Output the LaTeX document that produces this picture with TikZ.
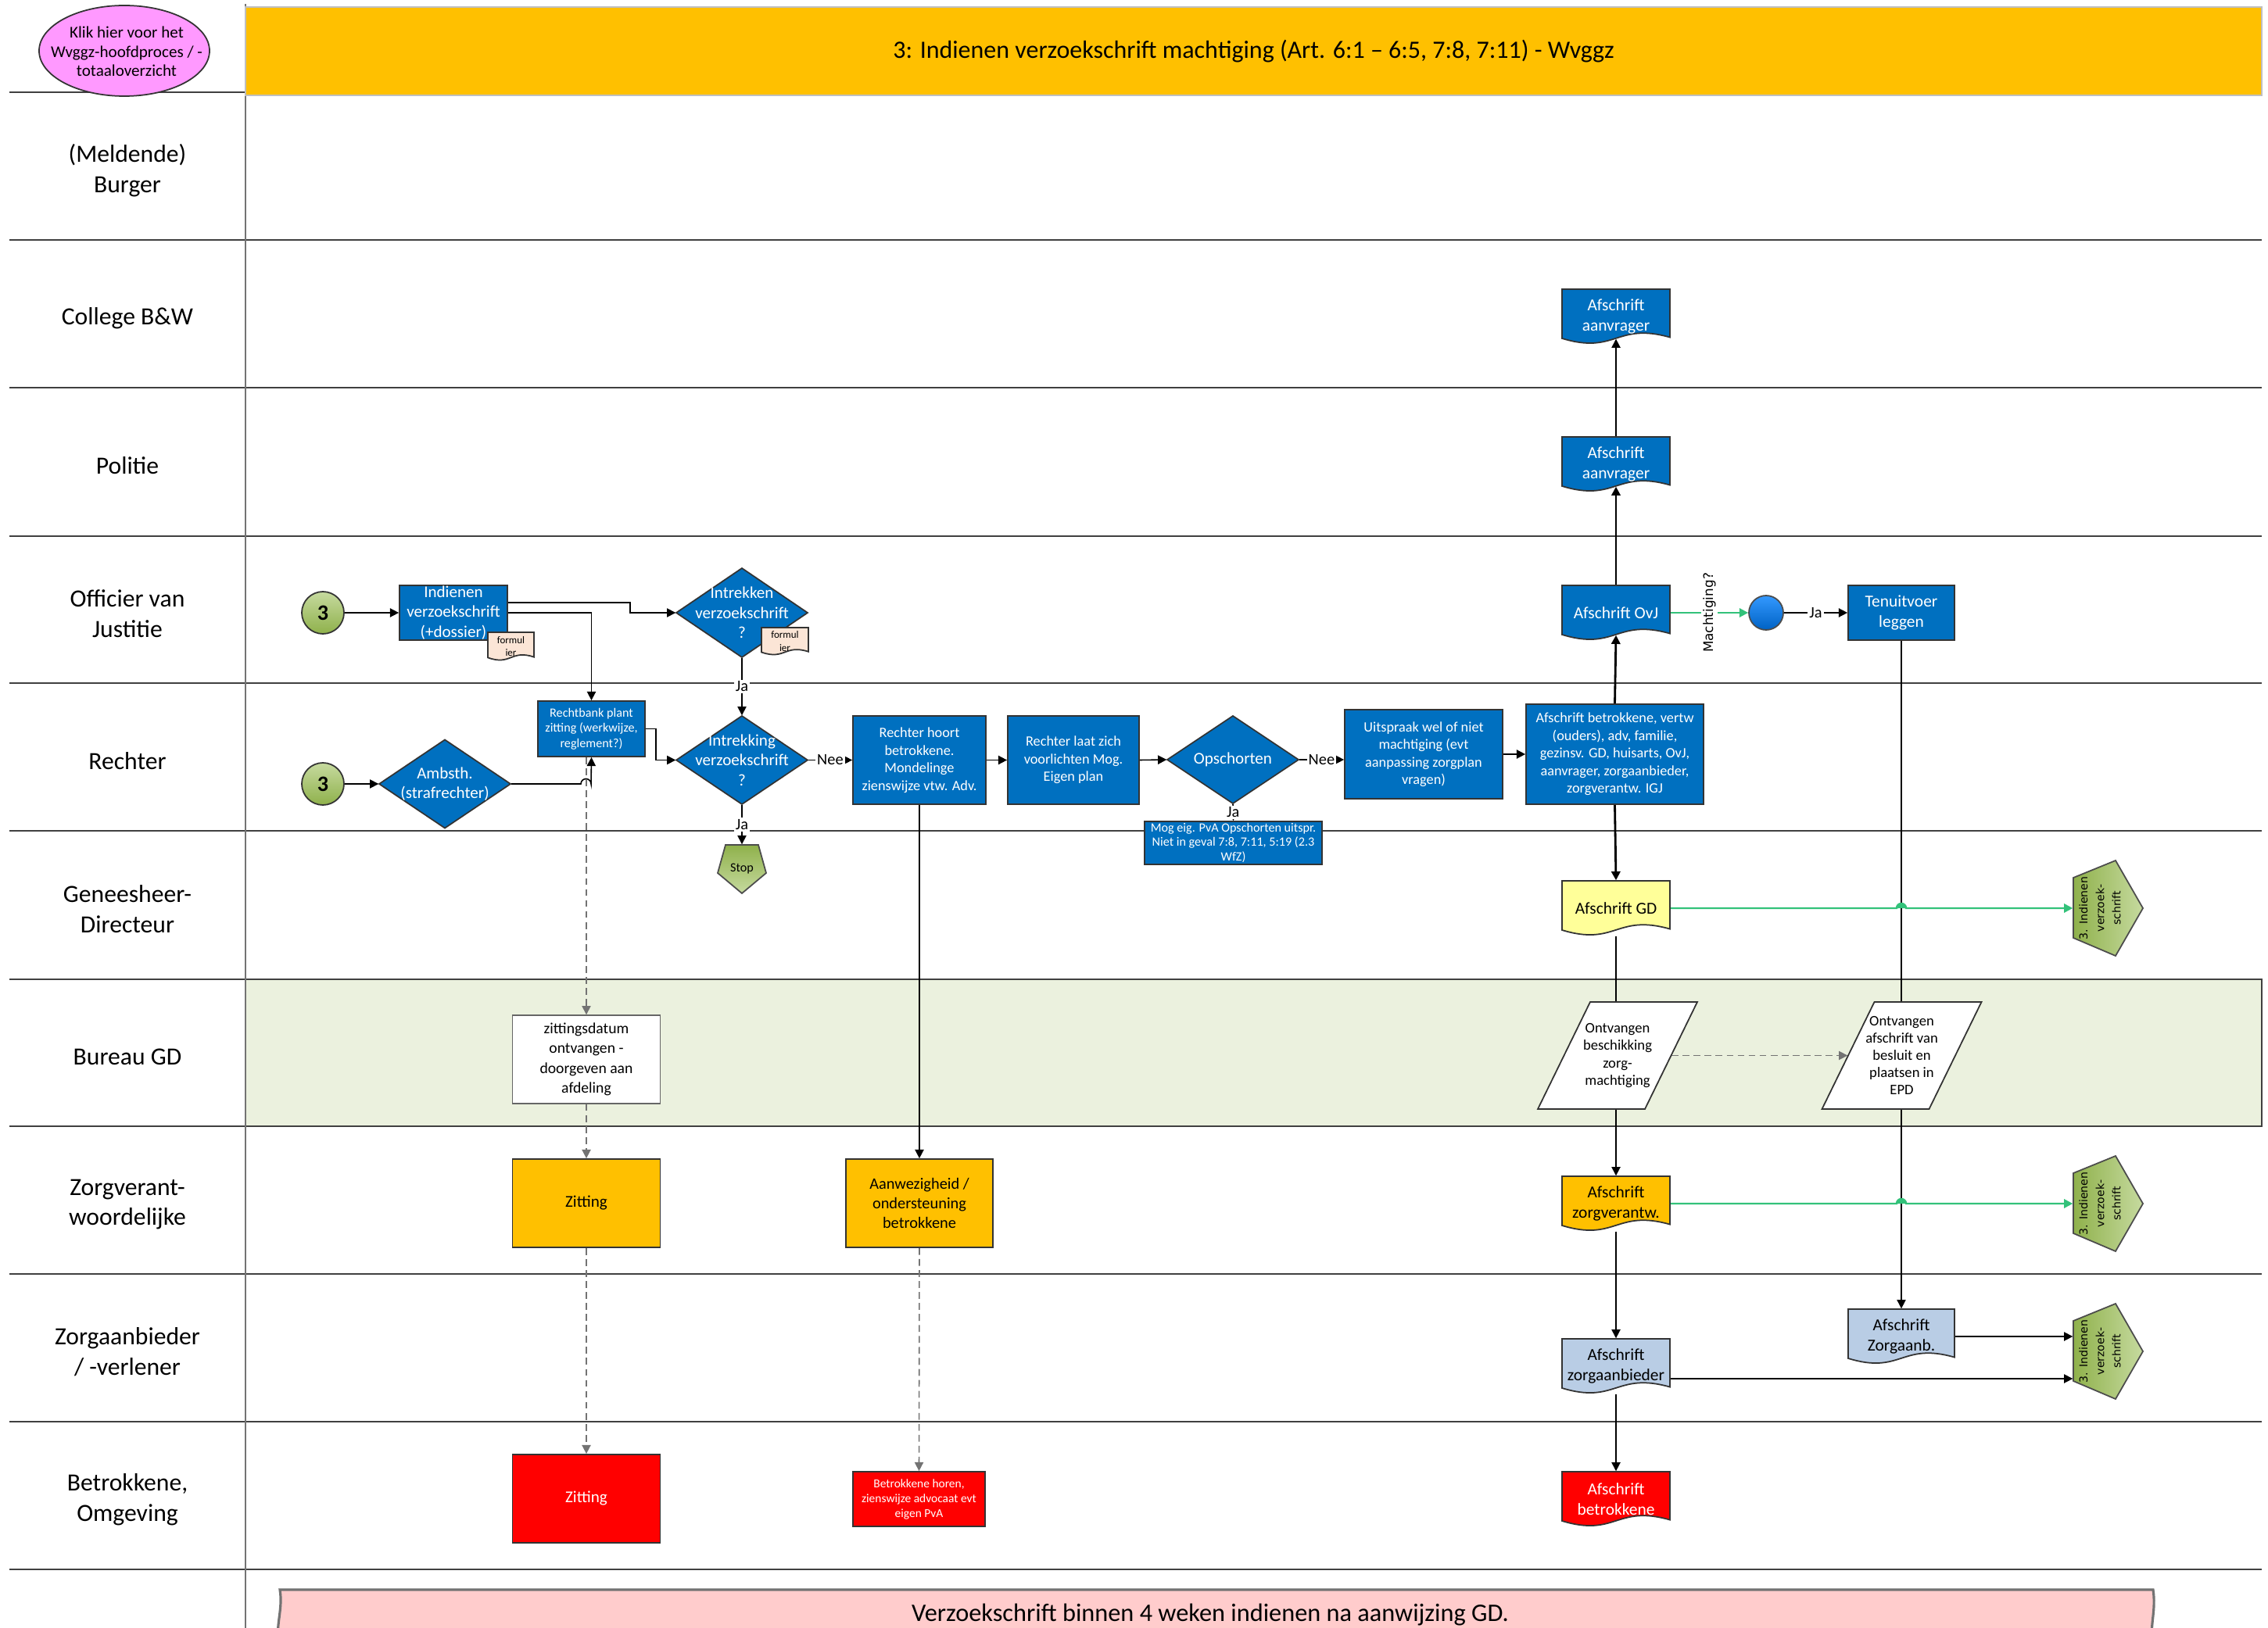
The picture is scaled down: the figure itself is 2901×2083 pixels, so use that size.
\documentclass[tikz,border=0pt]{standalone}
\usepackage{fontspec}
\setmainfont{Carlito}
\newfontfamily\dvs{DejaVu Sans}
\usetikzlibrary{arrows.meta,calc,shapes.geometric}
\definecolor{vblue}{HTML}{0070C0}
\definecolor{vorange}{HTML}{FFC000}
\definecolor{vred}{HTML}{FF0000}
\definecolor{vyellow}{HTML}{FFFF99}
\definecolor{vlblue}{HTML}{B9CDE5}
\definecolor{gdark}{HTML}{8FB14B}
\definecolor{glight}{HTML}{C6DA9F}
\definecolor{vpink}{HTML}{FF99FF}
\definecolor{vpeach}{HTML}{FBE5D6}
\definecolor{bandgreen}{HTML}{EBF1DE}
\definecolor{lgreen}{HTML}{33C27A}
\definecolor{bannerpink}{HTML}{FFCCCC}
\definecolor{laneline}{HTML}{404040}
\definecolor{bluetop}{HTML}{3399FF}
\definecolor{bluebot}{HTML}{0062C4}
\pgfdeclarelayer{bg}\pgfdeclarelayer{edges}
\pgfsetlayers{bg,edges,main}
\newcommand\fs[2]{\fontsize{#1}{#2}\selectfont}
\tikzset{
 sz/.style 2 args={minimum width=#1*0.1mm,minimum height=#2*0.1mm},
 box/.style={draw=black!80,line width=0.5pt,fill=vblue,text=white,align=center,inner sep=0pt},
 wbox/.style={draw=black!60,line width=0.4pt,fill=white,align=center,inner sep=0pt},
 obox/.style={draw=black!80,line width=0.5pt,fill=vorange,align=center,inner sep=0pt},
 rbox/.style={draw=black!80,line width=0.5pt,fill=vred,text=white,align=center,inner sep=0pt},
 lanelab/.style={align=center,font=\fs{9}{11}},
 lane/.style={draw=laneline,line width=0.7pt},
 arr/.style={-{Triangle[length=3.2pt,width=3.2pt]},line width=0.45pt,draw=black},
 garr/.style={-{Triangle[length=3.2pt,width=3.2pt]},line width=0.7pt,draw=lgreen,fill=lgreen},
 darr/.style={-{Triangle[length=3.2pt,width=3.2pt]},line width=0.45pt,draw=black!55,dash pattern=on 2.5pt off 1.5pt},
 lbl/.style={fill=white,inner sep=0.6pt,font=\fs{5.8}{6.8}},
 circ3/.style={circle,draw=black!80,line width=0.5pt,top color=glight,bottom color=gdark,minimum size=5.4mm,inner sep=0pt,font=\bfseries\fs{8}{9}},
}
% document shape: name cx cy w h fill nodeopts text
\newcommand\docnode[8]{%
 \filldraw[fill=#6,draw=black!80,line width=0.5pt,shift={(#2,#3)}] (-#4/2,-#5/2) -- (#4/2,-#5/2) -- (#4/2,0.38*#5) .. controls (0,0.1*#5) and (0,0.7*#5) .. (-#4/2,0.4*#5) -- cycle;
 \node[inner sep=0pt,sz={#4}{#5},align=center,#7] (#1) at (#2,#3) {#8};}
% diamond: name cx cy w h text
\newcommand\diam[6]{%
 \filldraw[fill=vblue,draw=black!80,line width=0.5pt,shift={(#2,#3)}] (0,-#5/2) -- (#4/2,0) -- (0,#5/2) -- (-#4/2,0) -- cycle;
 \node[inner sep=0pt,sz={#4}{#5},align=center,text=white,font=\fs{6}{7.3}] (#1) at (#2,#3) {#6};}
% parallelogram: name cx cy text
\newcommand\para[4]{%
 \filldraw[fill=white,draw=black!80,line width=0.5pt,shift={(#2,#3)}] (-35,-68.5) -- (102,-68.5) -- (35,68.5) -- (-102,68.5) -- cycle;
 \node[inner sep=0pt,sz={137}{137},align=center,font=\fs{5.3}{6.3}] (#1) at (#2,#3) {#4};}
% off-page connector: name cy
\newcommand\conn[2]{%
 \shadedraw[left color=gdark,right color=glight,draw=black!70,line width=0.5pt] (2706,#2-61) -- (2741,#2) -- (2706,#2+61) -- (2652,#2+38) -- (2652,#2-39) -- cycle;
 \node[inner sep=0pt,sz={88}{122}] (#1) at (2696,#2) {};
 \node[rotate=90,align=center,inner sep=0pt,font=\dvs\fs{4}{6}] (#1t) at (2686,#2) {3. Indienen\\verzoek-\\schrift};}
\begin{document}
\begin{tikzpicture}[x=0.1mm,y=-0.1mm]
\useasboundingbox (0,0) rectangle (2901,2083);
% ---------- background lanes
\begin{pgfonlayer}{bg}
\filldraw[fill=bandgreen,draw=laneline,line width=0.7pt] (314,1253) rectangle (2893,1441);
\foreach \yy in {118,307,496,686,874,1063,1630,1819,2008}
  \draw[lane] (12,\yy) -- (2893,\yy);
\draw[lane] (12,1253) -- (314,1253);
\draw[lane] (12,1441) -- (314,1441);
\draw[draw=black!55,line width=0.5pt] (314,5) -- (314,2083);
\end{pgfonlayer}
% ---------- header
\node[draw=black!25,line width=0.8pt,fill=vorange,sz={2579}{113},inner sep=0pt,font=\fs{9.1}{11}] (hdr) at (1603.5,65.5) {3: Indienen verzoekschrift machtiging (Art. 6:1 – 6:5, 7:8, 7:11) - Wvggz};
\filldraw[fill=vpink,draw=black!80,line width=0.5pt] (159,65) ellipse[x radius=10.9mm,y radius=5.8mm];
\node[align=center,font=\fs{6}{7}] (klik) at (162,66) {Klik hier voor het\\Wvggz-hoofdproces / -\\totaaloverzicht};
% ---------- lane labels
\node[lanelab] (l1) at (163,218) {(Meldende)\\Burger};
\node[lanelab] (l2) at (163,407) {College B\&W};
\node[lanelab] (l3) at (163,596) {Politie};
\node[lanelab] (l4) at (163,785) {Officier van\\Justitie};
\node[lanelab] (l5) at (163,974) {Rechter};
\node[lanelab] (l6) at (163,1163) {Geneesheer-\\Directeur};
\node[lanelab] (l7) at (163,1352) {Bureau GD};
\node[lanelab] (l8) at (163,1541) {Zorgverant-\\woordelijke};
\node[lanelab] (l9) at (163,1730) {Zorgaanbieder\\/ -verlener};
\node[lanelab] (l10) at (163,1919) {Betrokkene,\\Omgeving};
% ---------- Officier van Justitie lane (left)
\node[circ3] (c3a) at (413,784) {3};
\node[box,sz={138}{70},font=\fs{6}{7.3}] (ind) at (580,784) {Indienen\\verzoekschrift\\(+dossier)};
\docnode{form1}{653.5}{827}{59}{36}{vpeach}{font=\fs{3.7}{4.7}}{formul\\ier}
\diam{intr}{949}{784}{168}{114}{Intrekken\\verzoekschrift\\?}
\docnode{form2}{1004}{820.5}{60}{35}{vpeach}{font=\fs{3.7}{4.7}}{formul\\ier}
% ---------- Rechter lane
\node[circ3] (c3b) at (413,1003) {3};
\diam{amb}{569}{1003}{168}{113}{Ambsth.\\(strafrechter)}
\node[box,sz={137}{71},font=\fs{4.6}{5.5}] (rb) at (756.5,932.5) {Rechtbank plant\\zitting (werkwijze,\\reglement?)};
\diam{intk}{949}{972.5}{168}{113}{Intrekking\\verzoekschrift\\?}
\shadedraw[top color=gdark,bottom color=glight,draw=black!70,line width=0.5pt] (928,1081) -- (970,1081) -- (980,1117) -- (949,1143) -- (918,1117) -- cycle;
\node[inner sep=0pt,sz={62}{62},font=\fs{4.6}{5.5}] (stop) at (949,1112) {Stop};
\node[box,sz={170}{113},font=\fs{5.2}{6.4}] (rh) at (1176,972.5) {Rechter hoort\\betrokkene.\\Mondelinge\\zienswijze vtw. Adv.};
\node[box,sz={168}{113},font=\fs{5.2}{6.4}] (rl) at (1373,972.5) {Rechter laat zich\\voorlichten Mog.\\Eigen plan};
\diam{ops}{1577}{972}{168}{112}{Opschorten}
\node[box,sz={227}{55},font=\fs{4.6}{5.4}] (mog) at (1577.5,1078.5) {Mog eig. PvA Opschorten uitspr.\\Niet in geval 7:8, 7:11, 5:19 (2.3\\WfZ)};
\node[box,sz={202}{114},font=\fs{5.2}{6.4}] (up) at (1821,965) {Uitspraak wel of niet\\machtiging (evt\\aanpassing zorgplan\\vragen)};
\node[box,sz={227}{128},font=\fs{5.2}{6.4}] (ab) at (2065.5,965) {Afschrift betrokkene, vertw\\(ouders), adv, familie,\\gezinsv. GD, huisarts, OvJ,\\aanvrager, zorgaanbieder,\\zorgverantw. IGJ};
% ---------- right column documents
\docnode{col}{2067}{405}{138}{70}{vblue}{text=white,font=\fs{6.1}{7.6}}{Afschrift\\aanvrager}
\docnode{pol}{2067}{594}{138}{70}{vblue}{text=white,font=\fs{6.1}{7.6}}{Afschrift\\aanvrager}
\docnode{ovj}{2067}{784}{138}{70}{vblue}{text=white,font=\fs{6.1}{7.6}}{Afschrift OvJ}
\node[circle,draw=black!70,line width=0.5pt,top color=bluetop,bottom color=bluebot,minimum size=4.4mm,inner sep=0pt] (circ) at (2259,784) {};
\node[box,sz={136}{70},font=\fs{6.1}{7.6}] (ten) at (2432,784) {Tenuitvoer\\leggen};
\docnode{gd}{2067}{1162}{138}{70}{vyellow}{font=\fs{6.1}{7.6}}{Afschrift GD}
\conn{c1}{1162}
% ---------- Bureau GD lane
\node[wbox,sz={189}{113},font=\fs{5.6}{7.2}] (zd) at (750,1355.5) {zittingsdatum\\ontvangen -\\doorgeven aan\\afdeling};
\para{ob}{2069}{1350.5}{Ontvangen\\beschikking\\zorg-\\machtiging}
\para{oa}{2432.5}{1350.5}{Ontvangen\\afschrift van\\besluit en\\plaatsen in\\EPD}
% ---------- Zorgverantwoordelijke lane
\node[obox,sz={189}{113},font=\fs{6}{7.3}] (zit1) at (750,1539.5) {Zitting};
\node[obox,sz={188}{113},font=\fs{5.8}{7.1}] (aw) at (1176,1539.5) {Aanwezigheid /\\ondersteuning\\betrokkene};
\docnode{zv}{2067}{1540}{138}{70}{vorange}{font=\fs{6.1}{7.6}}{Afschrift\\zorgverantw.}
\conn{c2}{1540}
% ---------- Zorgaanbieder lane
\docnode{zab}{2067}{1748}{138}{70}{vlblue}{font=\fs{6.1}{7.6}}{Afschrift\\zorgaanbieder}
\docnode{za}{2432}{1710}{136}{70}{vlblue}{font=\fs{6.1}{7.6}}{Afschrift\\Zorgaanb.}
\conn{c3}{1729}
% ---------- Betrokkene lane
\node[rbox,sz={189}{113},font=\fs{6}{7.3}] (zit2) at (750,1917.5) {Zitting};
\node[rbox,sz={169}{70},font=\fs{4.4}{5.4}] (bh) at (1175.5,1918) {Betrokkene horen,\\zienswijze advocaat evt\\eigen PvA};
\docnode{bet}{2067}{1918}{138}{70}{vred}{text=white,font=\fs{6.1}{7.6}}{Afschrift\\betrokkene}
% ---------- banner
\filldraw[fill=bannerpink,draw=black!55,line width=0.9pt] (358,2034) -- (2754,2034) .. controls (2758,2060) and (2750,2078) .. (2753,2100) -- (356,2100) .. controls (353,2078) and (362,2058) .. cycle;
\node[font=\fs{9.2}{11}] (bantext) at (1548,2066) {Verzoekschrift binnen 4 weken indienen na aanwijzing GD.};
% ---------- connectors
\begin{pgfonlayer}{edges}
\draw[arr] (c3a.east) -- (ind.west);
\draw[arr] ([yshift=1.3mm]ind.east) -- (806,771) |- (intr.west);
\draw[arr] (ind.east) -| (rb.north);
\draw[arr] (intr.south) -- node[lbl]{Ja} (intk.north);
\draw[arr] (c3b.east) -- (amb.west);
\draw[arr] (amb.east) -- (743,1003) arc[start angle=180,end angle=0,radius=0.65mm] -- (rb.south);
\draw[arr] (rb.east) -- (839,932.5) |- (intk.west);
\draw[arr] (intk.east) -- node[lbl]{Nee} (rh.west);
\draw[arr] (intk.south) -- node[lbl]{Ja} (stop.north);
\draw[arr] (rh.east) -- (rl.west);
\draw[arr] (rl.east) -- (ops.west);
\draw[arr] (ops.east) -- node[lbl]{Nee} (ops.east -| up.west);
\draw[arr] (ops.south) -- node[lbl]{Ja} (mog.north);
\draw[arr] (up.east) -- (ab.west);
\draw[arr,line width=0.8pt] (ab.north) -- ([yshift=0.7mm]ovj.south);
\draw[arr,line width=0.8pt] (ovj.north) -- ([yshift=0.7mm]pol.south);
\draw[arr] (pol.north) -- ([yshift=0.7mm]col.south);
\draw[arr,line width=0.8pt] (ab.south) -- (gd.north);
\draw[garr] (ovj.east) -- node[fill=white,inner sep=0.6pt,rotate=90,font=\dvs\fs{4.8}{5.8},text=black] (mach) {Machtiging?} (circ.west);
\draw[arr] (circ.east) -- node[lbl]{Ja} (ten.west);
\draw[arr,line width=0.4pt] (ten.south) -- (za.north);
\draw[garr] (gd.east) -- (2426,1162) arc[start angle=180,end angle=0,radius=0.6mm] -- (c1.west);
\draw[garr] (zv.east) -- (2426,1540) arc[start angle=180,end angle=0,radius=0.6mm] -- (c2.west);
\draw[arr] (gd.south) -- (zv.north);
\draw[darr] (ob.east) -- (oa.west);
\draw[arr] (zv.south) -- (zab.north);
\draw[arr] (zab.south) -- (bet.north);
\draw[arr] (za.east) -- (za.east -| c3.west);
\draw[arr] ([yshift=-1.6mm]zab.east) -- ([yshift=-1.6mm]zab.east -| c3.west);
\draw[darr] (zd.north |- rb.south) -- (zd.north);
\draw[darr] (zd.south) -- (zit1.north);
\draw[darr] (zit1.south) -- (zit2.north);
\draw[arr] (rh.south) -- (aw.north);
\draw[darr] (aw.south) -- (bh.north);
\end{pgfonlayer}
\end{tikzpicture}
\end{document}
